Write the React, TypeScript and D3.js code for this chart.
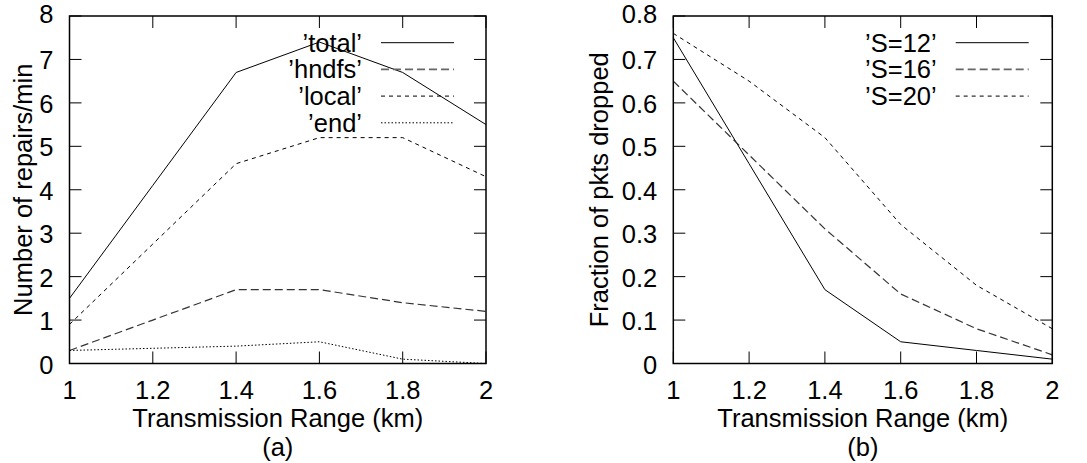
import React, { useEffect, useRef } from "react";
import * as d3 from "d3";

// transmission range (km)
const ranges = [1, 1.2, 1.4, 1.6, 1.8, 2];

// (a) number of repairs/min
const total = [1.5, 4.1, 6.7, 7.4, 6.7, 5.5];
const hndfs = [0.3, 1.0, 1.7, 1.7, 1.4, 1.2];
const local = [0.9, 2.75, 4.6, 5.2, 5.2, 4.3];
const endRepairs = [0.3, 0.35, 0.4, 0.5, 0.1, 0.0];

// (b) fraction of pkts dropped
const s12 = [0.75, 0.46, 0.17, 0.05, 0.03, 0.01];
const s16 = [0.65, 0.48, 0.31, 0.16, 0.08, 0.02];
const s20 = [0.76, 0.65, 0.52, 0.32, 0.18, 0.08];

const xTicks = [1, 1.2, 1.4, 1.6, 1.8, 2];
const yTicksA = [0, 1, 2, 3, 4, 5, 6, 7, 8];
const yTicksB = [0, 0.1, 0.2, 0.3, 0.4, 0.5, 0.6, 0.7, 0.8];

const dashes = [null, "8,4", "4,4", "1.5,2"];
const FONT = "'Liberation Sans', Arial, sans-serif";

function label(g, x, y, txt, anchor, rotate = 0) {
  return g.append("text")
    .attr("transform", `translate(${x},${y}) rotate(${rotate})`)
    .attr("text-anchor", anchor)
    .style("font-family", FONT)
    .style("font-size", "25.5px")
    .text(txt);
}

function drawPanel(svg, opts) {
  const { left, right, top, bottom, yMax, yTicks, yFmt, series, names, yLabel, yLabelX, tag, legendX } = opts;
  const x = d3.scaleLinear().domain([1, 2]).range([left, right]);
  const y = d3.scaleLinear().domain([0, yMax]).range([bottom, top]);
  const tick = 12;

  const g = svg.append("g");

  // ticks on all four sides
  xTicks.forEach(t => {
    g.append("line").attr("x1", x(t)).attr("x2", x(t)).attr("y1", bottom).attr("y2", bottom - tick).attr("stroke", "#000");
    g.append("line").attr("x1", x(t)).attr("x2", x(t)).attr("y1", top).attr("y2", top + tick).attr("stroke", "#000");
    label(g, x(t), 399, d3.format("")(t), "middle");
  });
  yTicks.forEach((t, i) => {
    g.append("line").attr("x1", left).attr("x2", left + tick).attr("y1", y(t)).attr("y2", y(t)).attr("stroke", "#000");
    g.append("line").attr("x1", right).attr("x2", right - tick).attr("y1", y(t)).attr("y2", y(t)).attr("stroke", "#000");
    // top label is pushed up a little, as in the source
    label(g, left - 16, i === yTicks.length - 1 ? 22.5 : y(t) + 10, yFmt(t), "end");
  });

  // lines
  const line = d3.line().x((d, i) => x(ranges[i])).y(d => y(d));
  series.forEach((s, i) => {
    g.append("path").datum(s).attr("d", line).attr("fill", "none")
      .attr("stroke", i === 1 ? "#333" : "#000").attr("stroke-width", i === 1 ? 1.2 : 1)
      .attr("stroke-dasharray", dashes[i]);
  });

  // legend
  names.forEach((n, i) => {
    const ly = 42.7 + i * 26.7;
    label(g, legendX, ly + 9, n, "end");
    g.append("line").attr("x1", legendX + 19).attr("x2", legendX + 92).attr("y1", ly).attr("y2", ly)
      .attr("stroke", i === 1 ? "#666" : "#000").attr("stroke-width", i === 1 ? 1.8 : 1)
      .attr("stroke-dasharray", dashes[i]);
  });

  // frame
  g.append("rect").attr("x", left).attr("y", top).attr("width", right - left).attr("height", bottom - top)
    .attr("fill", "none").attr("stroke", "#000").attr("stroke-width", 1.5);

  // axis labels
  const cx = (left + right) / 2;
  label(g, cx, 426.5, "Transmission Range (km)", "middle");
  label(g, cx, 456, tag, "middle");
  label(g, yLabelX, (top + bottom) / 2, yLabel, "middle", -90);
}

export default function App() {
  const ref = useRef(null);

  useEffect(() => {
    const svg = d3.select(ref.current);
    svg.selectAll("*").remove();

    drawPanel(svg, {
      left: 69.5, right: 486, top: 16, bottom: 363.5,
      yMax: 8, yTicks: yTicksA, yFmt: d3.format("d"),
      series: [total, hndfs, local, endRepairs],
      names: ["\u2019total\u2019", "\u2019hndfs\u2019", "\u2019local\u2019", "\u2019end\u2019"],
      yLabel: "Number of repairs/min", yLabelX: 31.5, tag: "(a)", legendX: 362,
    });

    drawPanel(svg, {
      left: 673.3, right: 1052.3, top: 16, bottom: 363.5,
      yMax: 0.8, yTicks: yTicksB, yFmt: t => (t === 0 ? "0" : d3.format(".1f")(t)),
      series: [s12, s16, s20],
      names: ["\u2019S=12\u2019", "\u2019S=16\u2019", "\u2019S=20\u2019"],
      yLabel: "Fraction of pkts dropped", yLabelX: 608, tag: "(b)", legendX: 936.7,
    });
  }, []);

  return (
    <svg ref={ref} width={1087} height={463}
      style={{ position: "absolute", left: 0, top: 0, background: "#fff" }} />
  );
}
